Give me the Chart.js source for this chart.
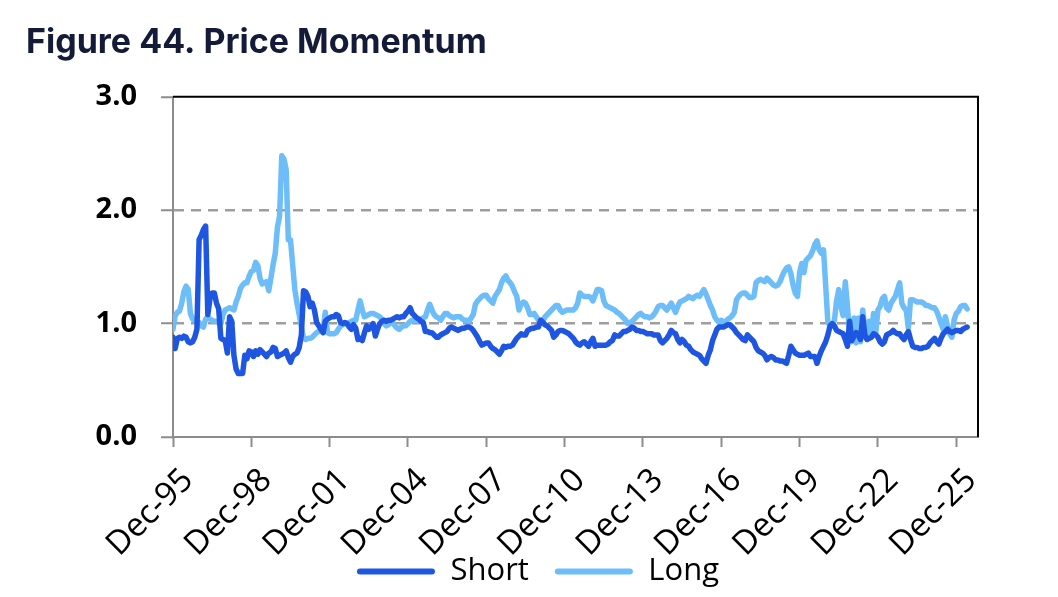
<!DOCTYPE html>
<html>
<head>
<meta charset="utf-8">
<title>Figure 44. Price Momentum</title>
<script src="https://cdn.jsdelivr.net/npm/chart.js@4.4.1/dist/chart.umd.min.js"></script>
<style>
  html, body { margin: 0; padding: 0; background: #fff; }
  #wrap { width: 1058px; height: 597px; }
</style>
</head>
<body>
<div id="wrap"><canvas id="chart" width="1058" height="597"></canvas></div>
<script>
// --- data (monthly, first point = Dec-95)
const seriesNames = ["Short", "Long"];
const xTickLabels = ["Dec-95","Dec-98","Dec-01","Dec-04","Dec-07","Dec-10","Dec-13","Dec-16","Dec-19","Dec-22","Dec-25"];
const yTickLabels = ["0.0", "1.0", "2.0", "3.0"];

const shortVals = [
  0.88,0.78,0.87,0.88,0.87,0.89,0.88,0.84,0.83,0.84,0.88,0.95,
  1.74,1.78,1.83,1.86,1.08,1.22,1.27,1.27,1.18,1.13,0.87,0.86,
  0.85,0.74,1.06,1.02,0.72,0.60,0.56,0.56,0.56,0.72,0.69,0.76,
  0.75,0.71,0.76,0.73,0.77,0.75,0.73,0.71,0.74,0.75,0.79,0.78,
  0.71,0.72,0.73,0.74,0.76,0.70,0.66,0.71,0.73,0.74,0.79,0.90,
  1.29,1.28,1.24,1.15,1.18,1.12,1.01,0.98,0.95,0.92,1.02,1.04,
  1.05,1.06,1.06,1.08,1.07,1.01,1.00,1.01,1.00,0.97,0.95,0.99,
  0.96,0.86,0.87,0.85,0.92,0.98,0.95,0.97,1.00,0.89,0.95,1.00,
  1.02,1.03,1.02,1.03,1.03,1.04,1.05,1.06,1.05,1.06,1.06,1.09,
  1.11,1.14,1.09,1.07,1.05,1.04,1.02,1.01,0.93,0.93,0.92,0.92,
  0.90,0.88,0.88,0.90,0.91,0.92,0.93,0.96,0.97,0.96,0.95,0.94,
  0.95,0.96,0.96,0.97,0.97,0.96,0.94,0.91,0.88,0.84,0.81,0.82,
  0.83,0.83,0.80,0.78,0.77,0.75,0.73,0.76,0.80,0.79,0.80,0.80,
  0.81,0.84,0.87,0.89,0.91,0.90,0.90,0.94,0.95,0.96,0.96,0.97,
  0.97,1.03,1.01,0.99,0.98,0.96,0.94,0.88,0.90,0.93,0.94,0.94,
  0.93,0.92,0.91,0.89,0.87,0.84,0.82,0.81,0.83,0.84,0.82,0.80,
  0.84,0.87,0.80,0.81,0.81,0.81,0.81,0.81,0.82,0.84,0.85,0.90,
  0.89,0.89,0.91,0.93,0.93,0.94,0.95,0.97,0.96,0.94,0.94,0.93,
  0.93,0.92,0.91,0.91,0.91,0.90,0.90,0.90,0.85,0.83,0.85,0.87,
  0.90,0.94,0.92,0.91,0.86,0.83,0.86,0.84,0.81,0.80,0.77,0.75,
  0.74,0.73,0.72,0.69,0.67,0.65,0.72,0.77,0.85,0.90,0.95,0.97,
  0.97,0.97,0.98,0.99,0.99,0.97,0.95,0.92,0.90,0.88,0.86,0.85,
  0.90,0.88,0.86,0.84,0.79,0.76,0.75,0.74,0.72,0.68,0.70,0.71,
  0.70,0.68,0.68,0.67,0.67,0.66,0.65,0.72,0.80,0.77,0.74,0.73,
  0.72,0.72,0.72,0.73,0.74,0.71,0.71,0.71,0.65,0.71,0.76,0.80,
  0.84,0.90,0.98,1.00,0.98,0.94,0.93,0.92,0.91,0.86,0.80,1.02,
  0.85,0.89,0.92,0.90,0.86,1.06,0.90,0.86,0.87,0.88,0.91,0.90,
  0.88,0.84,0.82,0.84,0.90,0.91,0.92,0.94,0.92,0.91,0.91,0.88,
  0.86,0.90,0.93,0.86,0.80,0.79,0.79,0.78,0.78,0.79,0.79,0.80,
  0.83,0.85,0.87,0.84,0.82,0.87,0.91,0.93,0.95,0.93,0.92,0.93,
  0.94,0.94,0.93,0.95,0.96,0.97
];

const longVals = [
  0.95,1.07,1.10,1.11,1.18,1.28,1.33,1.30,1.09,1.04,1.03,1.02,
  1.01,0.98,0.97,1.04,1.06,1.04,1.03,1.02,1.02,1.01,1.00,1.08,
  1.12,1.13,1.14,1.13,1.12,1.19,1.24,1.31,1.34,1.36,1.36,1.42,
  1.46,1.47,1.54,1.51,1.40,1.35,1.36,1.37,1.29,1.40,1.52,1.62,
  1.85,1.95,2.48,2.45,2.36,1.74,1.74,1.52,1.30,1.18,1.08,0.97,
  0.87,0.86,0.87,0.87,0.88,0.90,0.92,0.93,0.94,0.95,1.10,0.92,
  0.91,0.91,0.91,0.92,0.95,0.98,0.99,1.00,1.00,1.01,1.02,1.03,
  1.03,1.12,1.20,1.12,1.06,1.07,1.08,1.09,1.09,1.08,1.07,1.06,
  1.04,1.00,0.98,0.99,1.01,1.01,0.98,0.96,0.95,0.97,0.98,0.98,
  1.00,1.02,1.03,1.03,1.03,1.03,1.04,1.05,1.06,1.12,1.17,1.12,
  1.08,1.06,1.05,1.03,1.06,1.09,1.09,1.07,1.06,1.05,1.06,1.06,
  1.06,1.04,1.03,1.03,1.02,1.05,1.08,1.17,1.20,1.22,1.24,1.25,
  1.25,1.22,1.20,1.18,1.24,1.27,1.30,1.36,1.40,1.42,1.38,1.36,
  1.33,1.28,1.24,1.12,1.17,1.19,1.18,1.14,1.08,1.08,1.09,1.06,
  1.03,1.03,1.02,1.06,1.08,1.10,1.12,1.14,1.16,1.16,1.12,1.10,
  1.11,1.12,1.12,1.12,1.12,1.14,1.18,1.27,1.25,1.24,1.24,1.24,
  1.23,1.20,1.25,1.30,1.30,1.29,1.20,1.16,1.15,1.14,1.13,1.12,
  1.10,1.09,1.07,1.05,1.03,1.00,1.01,1.02,1.04,1.06,1.08,1.09,
  1.07,1.06,1.06,1.05,1.06,1.08,1.11,1.15,1.16,1.16,1.14,1.12,
  1.15,1.18,1.14,1.10,1.15,1.19,1.20,1.21,1.22,1.24,1.23,1.22,
  1.24,1.25,1.24,1.27,1.30,1.26,1.21,1.16,1.12,1.06,1.03,1.01,
  1.03,1.02,1.01,1.04,1.05,1.07,1.10,1.21,1.24,1.26,1.27,1.27,
  1.25,1.23,1.23,1.24,1.36,1.38,1.39,1.38,1.37,1.40,1.38,1.36,
  1.34,1.33,1.34,1.37,1.42,1.46,1.49,1.50,1.44,1.34,1.27,1.24,
  1.45,1.53,1.45,1.56,1.58,1.60,1.64,1.70,1.73,1.65,1.62,1.65,
  1.33,1.01,0.99,0.98,1.03,1.20,1.30,1.15,1.07,1.37,1.15,0.90,
  0.84,1.05,0.83,1.05,0.84,1.12,0.95,0.88,1.02,0.90,1.09,0.92,
  1.12,1.15,1.22,1.24,1.14,1.12,1.18,1.21,1.24,1.30,1.36,1.18,
  1.14,1.12,0.96,1.21,1.21,1.20,1.19,1.19,1.19,1.18,1.16,1.16,
  1.15,1.14,1.14,1.11,1.06,1.00,0.95,1.06,0.98,0.91,0.88,1.03,
  1.09,1.11,1.15,1.16,1.16,1.13
];

const MONTHS_PER_TICK = 36;
const X_MAX = 370; // axis runs a little past the last data month

// --- black frame on top / right of plot
const frame = {
  id: "frame",
  afterDatasetsDraw(chart) {
    const { ctx, chartArea: a } = chart;
    ctx.save();
    ctx.strokeStyle = "#000";
    ctx.lineWidth = 2;
    ctx.beginPath();
    ctx.moveTo(a.left, a.top);
    ctx.lineTo(a.right, a.top);
    ctx.lineTo(a.right, a.bottom);
    ctx.stroke();
    ctx.restore();
  }
};

// legend sits a bit right of centre; x labels may run down over the legend gap
const nudge = {
  id: "nudge",
  afterLayout(chart) {
    const lg = chart.legend;
    lg.left += 36; lg.right += 36;
    chart.scales.x.bottom = chart.height;
  }
};

const toPoints = arr => arr.map((v, i) => ({ x: i, y: v }));

new Chart(document.getElementById("chart"), {
  type: "line",
  data: {
    datasets: [
      { label: seriesNames[0], data: toPoints(shortVals), borderColor: "#1F56E1", backgroundColor: "#1F56E1" },
      { label: seriesNames[1], data: toPoints(longVals), borderColor: "#6DBDF9", backgroundColor: "#6DBDF9" }
    ]
  },
  options: {
    responsive: false,
    animation: false,
    devicePixelRatio: 1,
    layout: { padding: { left: 26, right: 80, top: 14, bottom: 0 } },
    elements: {
      point: { radius: 0 },
      line: { borderWidth: 5.5, tension: 0, borderJoinStyle: "round", borderCapStyle: "round" }
    },
    plugins: {
      title: {
        display: true,
        text: "Figure 44. Price Momentum",
        align: "start",
        color: "#141B38",
        font: { family: "Inter", size: 34, weight: "700" },
        padding: { top: 8, bottom: 34 }
      },
      legend: {
        position: "bottom",
        labels: {
          color: "#000",
          font: { family: "Open Sans", size: 31 },
          boxWidth: 78,
          boxHeight: 6,
          padding: 26,
          useBorderRadius: true,
          borderRadius: 3,
          generateLabels: chart => chart.data.datasets.map((ds, i) => ({
            text: ds.label,
            fillStyle: ds.borderColor,
            strokeStyle: ds.borderColor,
            lineWidth: 0,
            borderRadius: 3,
            datasetIndex: i,
            hidden: false
          }))
        }
      },
      tooltip: { enabled: false }
    },
    scales: {
      x: {
        type: "linear",
        min: 0,
        max: X_MAX,
        afterBuildTicks: s => { s.ticks = xTickLabels.map((_, i) => ({ value: i * MONTHS_PER_TICK })); },
        afterFit: s => { s.height = 93; },
        ticks: {
          autoSkip: false,
          maxRotation: 45,
          minRotation: 45,
          padding: 14,
          labelOffset: 15,
          color: "#000",
          font: { family: "Open Sans", size: 33 },
          callback: v => xTickLabels[Math.round(v / MONTHS_PER_TICK)] ?? ""
        },
        grid: { drawOnChartArea: false, drawTicks: true, tickLength: 10, tickColor: "#8C8C8C", tickWidth: 2 },
        border: { display: true, color: "#8C8C8C", width: 2 }
      },
      y: {
        min: 0,
        max: 3,
        afterBuildTicks: s => { s.ticks = yTickLabels.map((_, i) => ({ value: i })); },
        afterFit: s => { s.width = 147; },
        ticks: {
          color: "#000",
          padding: 24,
          font: { family: "Open Sans", size: 29, weight: "700" },
          callback: v => yTickLabels[Math.round(v)] ?? ""
        },
        grid: {
          color: c => (c.tick && (c.tick.value === 1 || c.tick.value === 2)) ? "#9E9E9E" : "rgba(0,0,0,0)",
          lineWidth: 2.5,
          drawTicks: true,
          tickLength: 12,
          tickColor: "#8C8C8C",
          tickWidth: 2
        },
        border: { display: true, color: "#8C8C8C", width: 2, dash: [10, 7] }
      }
    }
  },
  plugins: [frame, nudge]
});
</script>
</body>
</html>
